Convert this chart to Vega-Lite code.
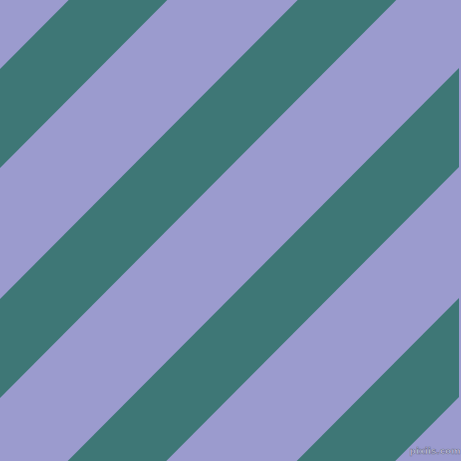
{
  "$schema": "https://vega.github.io/schema/vega-lite/v6.json",
  "width": 461,
  "height": 461,
  "autosize": {"type": "fit", "contains": "padding"},
  "padding": 0,
  "background": "#9b9bce",
  "config": {"view": {"stroke": null}},
  "datasets": {
    "bands": [
      {"band": 1, "x": 0, "y": 69, "y2": 168},
      {"band": 1, "x": 461, "y": -392, "y2": -293},
      {"band": 2, "x": 0, "y": 299, "y2": 398},
      {"band": 2, "x": 461, "y": -162, "y2": -63},
      {"band": 3, "x": 0, "y": 529, "y2": 628},
      {"band": 3, "x": 461, "y": 68, "y2": 167},
      {"band": 4, "x": 0, "y": 759, "y2": 858},
      {"band": 4, "x": 461, "y": 298, "y2": 397}
    ],
    "marks": [{"x": 437, "y": 451, "label": "pixiis.com"}]
  },
  "layer": [
    {
      "data": {"name": "bands"},
      "mark": {"type": "area", "clip": true, "color": "#3e7776", "interpolate": "linear"},
      "encoding": {
        "x": {"field": "x", "type": "quantitative", "scale": {"domain": [0, 461], "nice": false, "zero": false}, "axis": null},
        "y": {"field": "y", "type": "quantitative", "scale": {"domain": [0, 461], "reverse": true, "nice": false, "zero": false}, "axis": null},
        "y2": {"field": "y2"},
        "detail": {"field": "band", "type": "nominal"}
      }
    },
    {
      "data": {"name": "marks"},
      "mark": {"type": "text", "font": "DejaVu Sans", "fontSize": 9, "fontWeight": "bold", "fill": "#d0d0e8", "stroke": "#6e7090", "strokeWidth": 0.6},
      "encoding": {
        "x": {"field": "x", "type": "quantitative"},
        "y": {"field": "y", "type": "quantitative"},
        "text": {"field": "label"}
      }
    }
  ]
}
